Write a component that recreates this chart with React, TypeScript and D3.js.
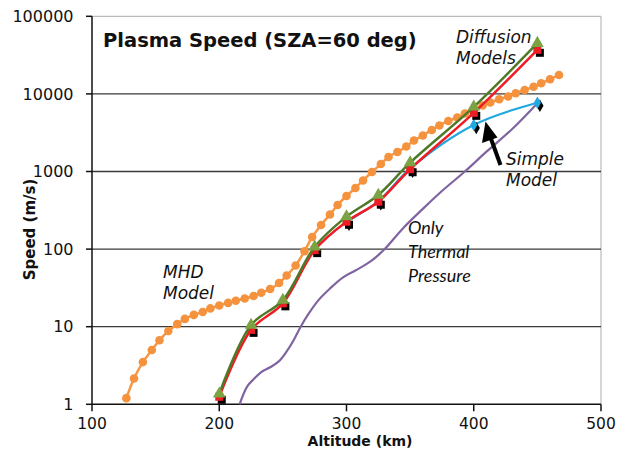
import React from "react";
import * as d3 from "d3";

// MHD model: altitude (km) and plasma speed (m/s)
const mhdAltitude = [
  127, 133, 140, 147, 153, 160, 167, 173, 180, 187, 193, 200, 207, 213, 220, 227, 233, 240,
  247, 253, 260, 267, 273, 280, 287, 293, 300, 307, 313, 320, 327, 333, 340, 347, 353, 360,
  367, 373, 380, 387, 393, 400, 407, 413, 420, 427, 433, 440, 447, 453, 460, 467,
];
const mhdSpeed = [
  1.2, 2.15, 3.5, 5.0, 6.7, 8.8, 10.8, 12.6, 14.2, 15.5, 17.2, 18.8, 20.3, 21.6, 23.1, 24.9, 27.4, 30.6,
  36.6, 45.7, 61.5, 94, 143, 204, 279, 370, 483, 613, 766, 985, 1250, 1540, 1780, 2100, 2510, 2910,
  3430, 3920, 4480, 4970, 5590, 6300, 7090, 7750, 8520, 9260, 10180, 11230, 12380, 13700, 15420, 17520,
];

// Diffusion models
const diffusionAltitude = [200, 225, 250, 275, 300, 325, 350, 400, 450];
const diffusionSpeedA = [1.25, 9.1, 20, 97, 225, 408, 1070, 5700, 37000];
const diffusionSpeedB = [1.36, 10.5, 22, 107, 262, 498, 1300, 6800, 45000];

// Simple model
const simpleAltitude = [300, 325, 350, 400, 450];
const simpleSpeed = [225, 415, 1090, 3980, 7700];

// Only thermal pressure
const thermalAltitude = [
  216, 222, 227, 233, 240, 247, 253, 258, 264, 270, 278, 287, 297, 307, 315, 322, 330, 345,
  360, 375, 393, 410, 430, 450,
];
const thermalSpeed = [
  1.0, 1.7, 2.1, 2.6, 3.0, 3.6, 4.8, 6.5, 10, 14.5, 22, 31, 43, 53, 63, 76, 100, 190,
  330, 560, 1000, 1800, 3500, 7600,
];

const xTicks = [100, 200, 300, 400, 500];
const yTicks = [1, 10, 100, 1000, 10000, 100000];

const W = 618;
const H = 450;

const x = d3.scaleLinear().domain([100, 500]).range([92, 601]);
const y = d3.scaleLog().domain([1, 100000]).range([404.3, 16.3]);

const smooth = d3
  .line<[number, number]>()
  .x((d) => x(d[0]))
  .y((d) => y(d[1]))
  .curve(d3.curveCatmullRom.alpha(0.5));

const zip = (a: number[], b: number[]): [number, number][] => a.map((v, i) => [v, b[i]]);

const sym = (type: d3.SymbolType, size: number) => d3.symbol().type(type).size(size)() as string;

const sans = "'DejaVu Sans', Verdana, sans-serif";

export default function App() {
  const mhd = zip(mhdAltitude, mhdSpeed);
  const diffA = zip(diffusionAltitude, diffusionSpeedA);
  const diffB = zip(diffusionAltitude, diffusionSpeedB);
  const simple = zip(simpleAltitude, simpleSpeed);
  const thermal = zip(thermalAltitude, thermalSpeed);

  const square = sym(d3.symbolSquare, 64);
  const triangle = sym(d3.symbolTriangle, 70);
  const diamond = sym(d3.symbolDiamond, 46);

  return (
    <svg
      width={W}
      height={H}
      viewBox={`0 0 ${W} ${H}`}
      style={{ position: "absolute", left: 0, top: 0, background: "#fff" }}
    >
      {/* frame */}
      <line x1={x(100)} x2={x(500)} y1={y(100000)} y2={y(100000)} stroke="#bbb" strokeWidth={1.2} />
      <line x1={x(500)} x2={x(500)} y1={y(100000)} y2={y(1)} stroke="#bbb" strokeWidth={1.2} />

      {/* gridlines */}
      {yTicks
        .filter((t) => t > 1 && t < 100000)
        .map((t) => (
          <line key={t} x1={x(100)} x2={x(500)} y1={y(t)} y2={y(t)} stroke="#3a3a3a" strokeWidth={1.3} />
        ))}

      {/* axes */}
      <line x1={x(100)} x2={x(100)} y1={y(100000)} y2={y(1)} stroke="#111" strokeWidth={1.5} />
      <line x1={x(100)} x2={x(500)} y1={y(1)} y2={y(1)} stroke="#111" strokeWidth={1.5} />
      {yTicks.map((t) => (
        <g key={t}>
          <line x1={x(100) - 6} x2={x(100)} y1={y(t)} y2={y(t)} stroke="#111" strokeWidth={1.5} />
          <text
            x={73.5}
            y={y(t)}
            dy="0.36em"
            textAnchor="end"
            fontFamily={sans}
            fontSize={16}
            fill="#111"
          >
            {t}
          </text>
        </g>
      ))}
      {xTicks.map((t) => (
        <g key={t}>
          <line x1={x(t)} x2={x(t)} y1={y(1)} y2={y(1) + 7} stroke="#111" strokeWidth={1.5} />
          <text x={x(t)} y={428.5} textAnchor="middle" fontFamily={sans} fontSize={15.5} fill="#111">
            {t}
          </text>
        </g>
      ))}

      <text x={360} y={446} textAnchor="middle" fontFamily={sans} fontWeight="bold" fontSize={14} fill="#111">
        Altitude (km)
      </text>
      <text
        transform="translate(35,229.5) rotate(-90)"
        textAnchor="middle"
        fontFamily={sans}
        fontWeight="bold"
        fontSize={15}
        fill="#111"
      >
        Speed (m/s)
      </text>

      <text x={103} y={47} fontFamily={sans} fontWeight="bold" fontSize={19.5} fill="#111">
        Plasma Speed (SZA=60 deg)
      </text>

      {/* only thermal pressure */}
      <path d={smooth(thermal) ?? ""} fill="none" stroke="#8064A2" strokeWidth={2.2} />

      {/* MHD model */}
      <path d={smooth(mhd) ?? ""} fill="none" stroke="#F79646" strokeWidth={2.5} />
      {mhd.map((d, i) => (
        <circle key={i} cx={x(d[0])} cy={y(d[1])} r={4.3} fill="#F5923E" />
      ))}

      {/* simple model */}
      <path d={smooth(simple) ?? ""} fill="none" stroke="#21A8E0" strokeWidth={2.2} />
      {simple.map((d, i) => (
        <g key={i}>
          <path d={diamond} transform={`translate(${x(d[0]) + 2.5},${y(d[1]) + 3})`} fill="#000" />
          <path d={diamond} transform={`translate(${x(d[0])},${y(d[1])})`} fill="#21A8E0" />
        </g>
      ))}

      {/* diffusion models */}
      <path d={smooth(diffA) ?? ""} fill="none" stroke="#EE1C24" strokeWidth={2.5} />
      {diffA.map((d, i) => (
        <g key={i}>
          <path d={square} transform={`translate(${x(d[0]) + 2.5},${y(d[1]) + 3})`} fill="#000" />
          <path d={square} transform={`translate(${x(d[0])},${y(d[1])})`} fill="#EE1C24" />
        </g>
      ))}
      <path d={smooth(diffB) ?? ""} fill="none" stroke="#4E7A27" strokeWidth={2.5} />
      {diffB.map((d, i) => (
        <path key={i} d={triangle} transform={`translate(${x(d[0])},${y(d[1])})`} fill="#7BA344" />
      ))}

      {/* annotations */}
      <g fontFamily={sans} fontStyle="italic" fontSize={17} fill="#111">
        <text x={456} y={43}>Diffusion</text>
        <text x={456} y={64}>Models</text>
        <text x={506} y={165}>Simple</text>
        <text x={506} y={186}>Model</text>
        <text x={163} y={278}>MHD</text>
        <text x={163} y={299}>Model</text>
      </g>
      <g fontFamily="Lato, 'Open Sans', sans-serif" fontStyle="italic" fontSize={18} fill="#111">
        <text x={408} y={234}>Only</text>
        <text x={408} y={258}>Thermal</text>
        <text x={408} y={282}>Pressure</text>
      </g>

      {/* arrow pointing at the simple model */}
      <line x1={500.5} y1={165} x2={490} y2={136} stroke="#000" strokeWidth={4} />
      <path d="M485.5,121.5 L482,143 L497.5,137.5 Z" fill="#000" />
    </svg>
  );
}
